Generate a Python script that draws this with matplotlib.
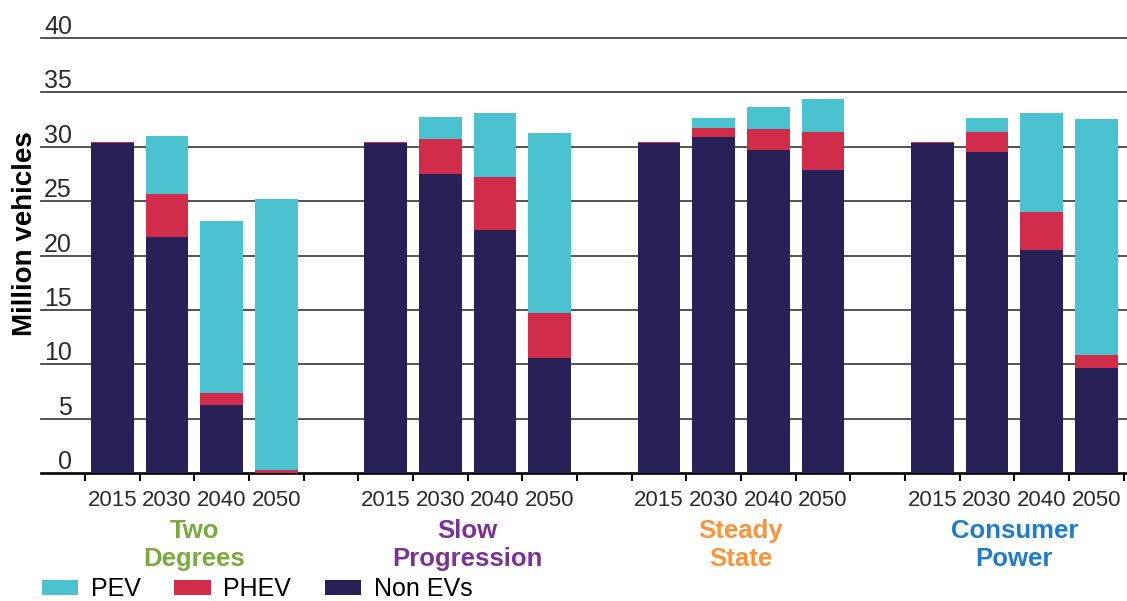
import matplotlib
matplotlib.use("Agg")
import matplotlib.pyplot as plt
from matplotlib import font_manager
from matplotlib.transforms import offset_copy, blended_transform_factory
import numpy as np

# ---- data (million vehicles) ----
scenarios = ["Two\nDegrees", "Slow\nProgression", "Steady\nState", "Consumer\nPower"]
scenario_colors = ["#7aaa3c", "#7a3296", "#f7943c", "#1e7dc8"]
years = ["2015", "2030", "2040", "2050"]

non_ev = [30.3, 21.7, 6.25, 0.0,
          30.3, 27.5, 22.35, 10.6,
          30.3, 30.9, 29.7, 27.9,
          30.3, 29.5, 20.5, 9.7]
phev = [0.15, 4.0, 1.1, 0.3,
        0.15, 3.2, 4.9, 4.1,
        0.15, 0.85, 1.95, 3.5,
        0.15, 1.9, 3.5, 1.15]
pev = [0.0, 5.3, 15.85, 24.9,
       0.0, 2.0, 5.85, 16.6,
       0.0, 0.9, 2.05, 3.0,
       0.0, 1.2, 9.1, 21.7]

yticks = [0, 5, 10, 15, 20, 25, 30, 35, 40]

c_pev = "#4bc2cf"
c_phev = "#d12c4a"
c_non = "#282157"

installed = {f.name for f in font_manager.fontManager.ttflist}
main_font = "Liberation Sans" if "Liberation Sans" in installed else "DejaVu Sans"
plt.rcParams["font.family"] = [main_font, "DejaVu Sans"]

fig = plt.figure(figsize=(11.27, 6.01), dpi=100)
ax = fig.add_axes([41 / 1127, 1 - 473 / 601, 1 - 41 / 1127, (473 - 38) / 601])

# bar slots: 4 bars per scenario, one empty slot between scenarios
n_groups = len(scenarios)
n_years = len(years)
slot = n_years + 1
x = np.array([g * slot + k for g in range(n_groups) for k in range(n_years)], dtype=float)
non_ev = np.array(non_ev)
phev = np.array(phev)
pev = np.array(pev)

w = 0.78
b_non = ax.bar(x, non_ev, width=w, color=c_non, zorder=3, label="Non EVs")
b_phev = ax.bar(x, phev, width=w, bottom=non_ev, color=c_phev, zorder=3, label="PHEV")
b_pev = ax.bar(x, pev, width=w, bottom=non_ev + phev, color=c_pev, zorder=3, label="PEV")

n_slots = n_groups * slot - 1
ax.set_xlim(-1.305, n_slots - 0.5 + 0.06)
ax.set_ylim(0, 40)

# horizontal grid with value labels sitting on the lines
for v in yticks[1:]:
    ax.axhline(v, color="#444444", lw=1.3, zorder=1, clip_on=False)
lab_tr = offset_copy(ax.transData, fig=fig, x=0, y=4, units="dots")
for v in yticks:
    ax.text(-0.74, v, str(v), transform=lab_tr, ha="right", va="baseline",
            fontsize=18, color="#2b2b2b")

# axes styling
for s in ["top", "right", "left"]:
    ax.spines[s].set_visible(False)
ax.spines["bottom"].set_linewidth(1.9)
ax.spines["bottom"].set_color("black")
ax.set_yticks([])
ax.set_xticks(np.arange(-0.5, n_slots, 1.0))
ax.set_xticklabels([])
ax.tick_params(axis="x", which="major", direction="out", length=6, width=1.5, color="black")

# year labels under each bar
xt = blended_transform_factory(ax.transData, ax.transAxes)
yr_tr = offset_copy(xt, fig=fig, x=0, y=-28, units="dots")
for i, xi in enumerate(x):
    ax.text(xi, 0, years[i % n_years], transform=yr_tr, ha="center", va="center",
            fontsize=16, color="#2b2b2b")

# scenario names
sc_tr = offset_copy(xt, fig=fig, x=0, y=-46, units="dots")
for g, (name, col) in enumerate(zip(scenarios, scenario_colors)):
    cx = g * slot + (n_years - 1) / 2
    ax.text(cx, 0, name, transform=sc_tr, ha="center", va="top", fontsize=18.5,
            fontweight="bold", color=col, linespacing=1.22)

ax.set_ylabel("Million vehicles", fontsize=20, fontweight="bold", color="black")
ax.yaxis.set_label_coords(-0.003, 0.55)

fig.legend(handles=[b_pev, b_phev, b_non], labels=["PEV", "PHEV", "Non EVs"],
           loc="center left", bbox_to_anchor=(32 / 1127, 1 - 589 / 601), ncol=3, frameon=False,
           fontsize=18, handlelength=1.45, handleheight=0.56, handletextpad=0.5,
           columnspacing=1.35, borderaxespad=0.0)

fig.savefig("out.png", dpi=100)
